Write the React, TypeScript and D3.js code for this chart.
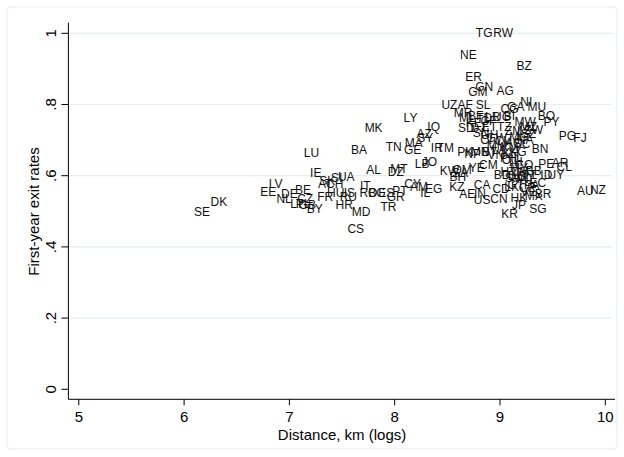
import React from 'react';
import * as d3 from 'd3';

const countries = [
  'SE','DK','LV','EE','DE','NL','BE','CZ','LT','PL','GB','BY','IE','SK','SI','UA','AT','CH','FR','HU','IS','RU','HR','MD','CS','IT','RO','BG','ES','GR','PT','TR','LU','BA','MK','AL','TN','DZ','MT','LY','GE','MA','AZ','SY','IQ','IR','TM','LB','JO','CY','AM','IL','EG','KW','SA','BH','OM','YE','CM','KZ','CA','AE','IN','US','CN','CD','LK','HK','JP','KR','SG','AU','NZ','PG','FJ','BN','PE','AR','CL','UY','ID','EC','BR','MX','VE','CO','PA','CR','GT',
  'TG','RW','NE','BZ','ER','GN','GM','AG','UZ','AF','SL','NI','MU','CG','GA','BO','PY','MW','MR','ML','BF','TD','LR','UG','BI','KE','CF','SD','DJ','ET','TZ','MZ','ZM','LS','ZW','SZ','SN','GH','CI','GW','MG','NA','CV','AO','KM','SC','MM','PK','NP','MN','BT','LA','VN','KH','KG','PH','TH','MY','CU','HT','DO','JM','SV','HN','TT','BB','GY','BD'
];

const logDistance = [
  6.17,6.33,6.87,6.80,7.00,6.95,7.13,7.15,7.07,7.13,7.17,7.24,7.25,7.36,7.45,7.54,7.34,7.43,7.34,7.44,7.57,7.56,7.52,7.68,7.63,7.72,7.75,7.83,7.92,8.01,8.05,7.94,7.21,7.66,7.80,7.80,7.99,8.01,8.04,8.15,8.17,8.18,8.28,8.29,8.37,8.40,8.48,8.26,8.33,8.17,8.23,8.29,8.37,8.52,8.62,8.60,8.64,8.78,8.89,8.59,8.83,8.69,8.81,8.83,8.99,9.01,9.11,9.18,9.18,9.09,9.36,9.81,9.93,9.64,9.76,9.38,9.44,9.57,9.61,9.53,9.44,9.36,9.41,9.32,9.27,9.23,9.30,9.26,9.15,
  8.85,9.03,8.70,9.23,8.75,8.85,8.79,9.05,8.52,8.67,8.84,9.25,9.35,9.09,9.15,9.44,9.49,9.24,8.65,8.69,8.77,8.85,8.93,9.02,9.09,8.75,8.89,8.68,8.79,8.90,9.04,9.27,9.13,9.23,9.32,9.27,8.82,8.90,8.87,8.97,9.18,9.24,9.03,9.13,9.09,9.21,8.97,8.67,8.74,8.81,8.90,8.99,8.96,9.10,9.17,9.08,9.14,9.18,9.10,9.08,9.16,9.20,9.12,9.19,9.28,9.32,9.25,9.02
];

const exitRate = [
  0.499,0.525,0.577,0.555,0.549,0.535,0.560,0.535,0.521,0.521,0.517,0.506,0.607,0.586,0.593,0.597,0.577,0.577,0.541,0.552,0.552,0.539,0.518,0.499,0.450,0.571,0.551,0.552,0.552,0.539,0.558,0.511,0.665,0.672,0.733,0.616,0.680,0.611,0.619,0.763,0.672,0.691,0.717,0.707,0.738,0.677,0.677,0.632,0.639,0.576,0.569,0.551,0.562,0.614,0.607,0.597,0.616,0.621,0.630,0.567,0.574,0.549,0.549,0.532,0.534,0.562,0.569,0.537,0.518,0.492,0.506,0.557,0.560,0.712,0.707,0.674,0.633,0.635,0.624,0.602,0.602,0.579,0.549,0.543,0.554,0.629,0.574,0.566,0.574,
  1.000,1.000,0.939,0.909,0.878,0.850,0.836,0.839,0.799,0.799,0.799,0.808,0.794,0.788,0.793,0.769,0.752,0.752,0.775,0.762,0.768,0.762,0.766,0.765,0.768,0.748,0.754,0.733,0.734,0.737,0.737,0.737,0.726,0.726,0.728,0.717,0.720,0.714,0.700,0.706,0.709,0.700,0.698,0.692,0.680,0.689,0.683,0.667,0.661,0.667,0.667,0.672,0.658,0.664,0.667,0.650,0.639,0.622,0.644,0.611,0.599,0.611,0.593,0.590,0.602,0.614,0.597,0.602
];

const xTicks = [5, 6, 7, 8, 9, 10];
const yTicks = [0, 0.2, 0.4, 0.6, 0.8, 1];
const yTickLabels = ['0', '.2', '.4', '.6', '.8', '1'];

const W = 624;
const H = 457;
const FONT = "'Liberation Sans', Arial, Helvetica, sans-serif";

export default function App() {
  const x = d3.scaleLinear().domain([5, 10]).range([78.8, 605.3]);
  const y = d3.scaleLinear().domain([0, 1]).range([389.3, 33.3]);
  const plotLeft = 68.4;
  const plotRight = 615;
  const plotTop = 22.7;
  const plotBottom = 399.3;
  const gridColor = '#e6eef0';

  return (
    <svg
      width={W}
      height={H}
      style={{ position: 'absolute', left: 0, top: 0, display: 'block', background: '#fff' }}
      fontFamily={FONT}
    >
      <rect x={0} y={0} width={W} height={H} fill="#fff" />
      <rect x={7} y={7} width={610} height={442} rx={4} fill="none" stroke={gridColor} strokeWidth={1} />
      {yTicks.filter((t) => t > 0).map((t) => (
        <line key={'g' + t} x1={plotLeft} x2={plotRight - 3} y1={y(t)} y2={y(t)} stroke={gridColor} strokeWidth={1.2} />
      ))}
      <line x1={plotLeft} x2={plotLeft} y1={plotTop} y2={plotBottom} stroke="#000" strokeWidth={1} />
      <line x1={plotLeft} x2={plotRight} y1={plotBottom} y2={plotBottom} stroke="#000" strokeWidth={1} />
      {yTicks.map((t, i) => (
        <g key={'yt' + t}>
          <line x1={plotLeft - 7} x2={plotLeft} y1={y(t)} y2={y(t)} stroke="#000" strokeWidth={1} />
          <text
            transform={`translate(50,${y(t)}) rotate(-90)`}
            textAnchor="middle"
            dominantBaseline="central"
            fontSize={15}
            fill="#000"
          >
            {yTickLabels[i]}
          </text>
        </g>
      ))}
      {xTicks.map((t) => (
        <g key={'xt' + t}>
          <line x1={x(t)} x2={x(t)} y1={plotBottom} y2={plotBottom + 6} stroke="#000" strokeWidth={1} />
          <text x={x(t)} y={416.5} textAnchor="middle" dominantBaseline="central" fontSize={15} fill="#000">
            {t}
          </text>
        </g>
      ))}
      <text x={(x(5) + x(10)) / 2} y={434} textAnchor="middle" dominantBaseline="central" fontSize={15} fill="#000">
        Distance, km (logs)
      </text>
      <text
        transform={`translate(33.8,211.5) rotate(-90)`}
        textAnchor="middle"
        dominantBaseline="central"
        fontSize={15}
        fill="#000"
      >
        First-year exit rates
      </text>
      {countries.map((c, i) => (
        <text
          key={c + i}
          x={x(logDistance[i])}
          y={y(exitRate[i])}
          textAnchor="middle"
          dominantBaseline="central"
          fontSize={12}
          fill="#111"
        >
          {c}
        </text>
      ))}
    </svg>
  );
}
